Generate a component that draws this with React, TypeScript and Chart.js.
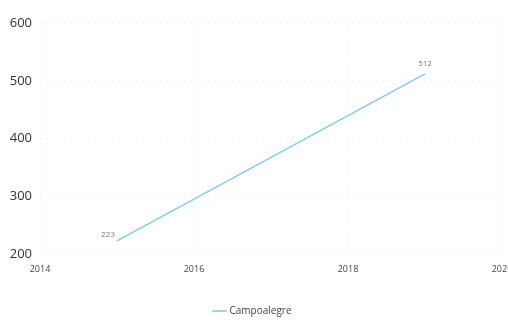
import React, { useEffect, useRef } from "react";
import { Chart, registerables } from "chart.js";

Chart.register(...registerables);

const seriesName = "Campoalegre";
const years = [2015, 2019];
const values = [223, 512];
const xTicks = [2014, 2016, 2018, 2020];
const yTicks = [200, 300, 400, 500, 600];

const pointLabels = {
  id: "pointLabels",
  afterDatasetsDraw(chart: any) {
    const ctx = chart.ctx;
    const meta = chart.getDatasetMeta(0);
    ctx.save();
    ctx.font = "8px 'Open Sans', sans-serif";
    ctx.fillStyle = "#777";
    ctx.textBaseline = "bottom";
    meta.data.forEach((pt: any, i: number) => {
      const txt = String(values[i]);
      if (i === 0) {
        ctx.textAlign = "right";
        ctx.fillText(txt, pt.x - 2, pt.y - 2);
      } else {
        ctx.textAlign = "center";
        ctx.fillText(txt, pt.x, pt.y - 6);
      }
    });
    ctx.restore();
  },
};

export default function App() {
  const ref = useRef<HTMLCanvasElement>(null);
  useEffect(() => {
    document.body.style.margin = "0";
    const chart = new Chart(ref.current!, {
      type: "line",
      data: {
        datasets: [
          {
            label: seriesName,
            data: years.map((y, i) => ({ x: y, y: values[i] })),
            borderColor: "#84cbec",
            backgroundColor: "#84cbec",
            borderWidth: 1.6,
            pointRadius: 0,
            tension: 0,
          },
        ],
      },
      options: {
        animation: false,
        responsive: false,
        layout: { padding: { left: 4, right: 6, top: 23, bottom: -6 } },
        plugins: {
          legend: {
            position: "bottom",
            labels: {
              usePointStyle: true,
              pointStyle: "line",
              boxWidth: 22,
              color: "#444",
              font: { size: 10, family: "'Open Sans', sans-serif" },
              padding: 2,
            },
          },
          tooltip: { enabled: false },
        },
        scales: {
          x: {
            type: "linear",
            min: 2014,
            max: 2020,
            afterBuildTicks: (s: any) => {
              s.ticks = xTicks.map((v) => ({ value: v }));
            },
            afterFit: (s: any) => {
              s.paddingLeft = 0;
              s.paddingRight = 0;
              s.height += 19;
            },
            ticks: {
              callback: (v: any) => String(v),
              color: "#444",
              font: { size: 9, family: "'Open Sans', sans-serif" },
              padding: 10,
              maxRotation: 0,
            },
            grid: {
              color: "rgba(0,0,0,0.05)",
              drawTicks: false,
            },
            border: { display: false, dash: [2, 4] },
          },
          y: {
            min: 200,
            max: 600,
            afterBuildTicks: (s: any) => {
              s.ticks = yTicks.map((v) => ({ value: v }));
            },
            afterFit: (s: any) => {
              s.width = 36;
            },
            ticks: {
              color: "#333",
              font: { size: 13, family: "'Open Sans', sans-serif" },
              padding: 8,
            },
            grid: {
              color: "rgba(0,0,0,0.04)",
              drawTicks: false,
            },
            border: { display: false, dash: [2, 4] },
          },
        },
      },
      plugins: [pointLabels],
    } as any);
    return () => chart.destroy();
  }, []);
  return (
    <div style={{ position: "absolute", left: 0, top: 0, width: 508, height: 320, overflow: "hidden", background: "#fff" }}>
      <canvas ref={ref} width={508} height={320} />
    </div>
  );
}
